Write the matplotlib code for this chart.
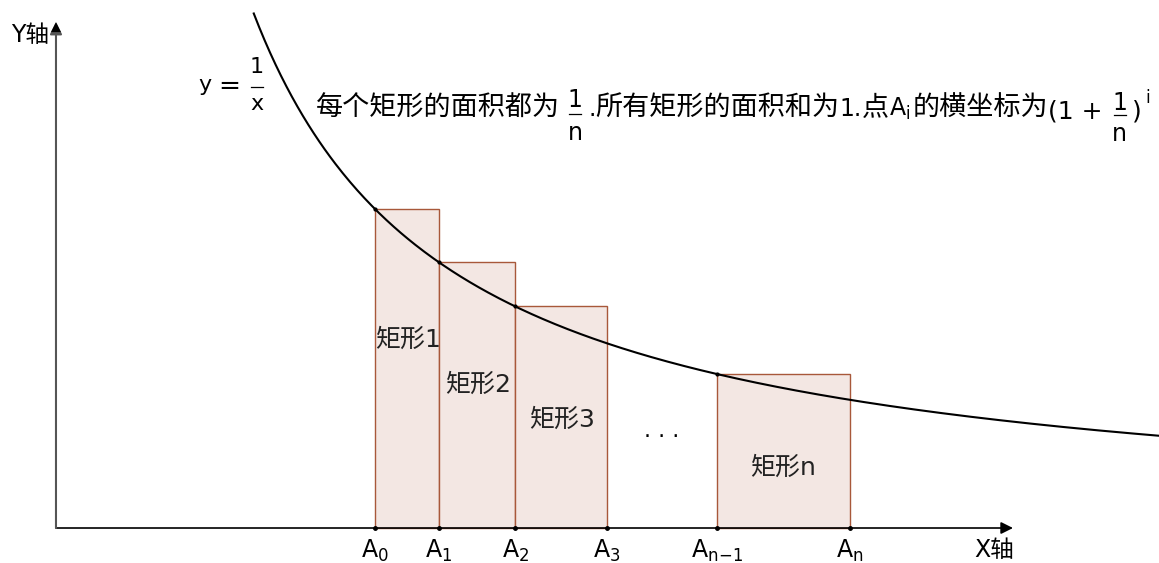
import numpy as np
import matplotlib.pyplot as plt
from matplotlib.patches import Rectangle
from matplotlib.lines import Line2D

plt.rcParams['font.family'] = ['DejaVu Sans', 'Noto Sans CJK SC']
plt.rcParams['mathtext.fontset'] = 'dejavusans'
plt.rcParams['mathtext.default'] = 'rm'

# points A_i on the x axis (n = 5)
a_points = [1.0, 1.2, 1.44, 1.728, 2.0736, 2.48832]
a_labels = ['$A_0$', '$A_1$', '$A_2$', '$A_3$', r'$A_{n\!-\!1}$', '$A_n$']

# rectangles: left edge, right edge, height = 1/left
rect_left = [1.0, 1.2, 1.44, 2.0736]
rect_right = [1.2, 1.44, 1.728, 2.48832]
rect_height = [1.0, 0.8333, 0.6944, 0.4823]
rect_names = ['矩形1', '矩形2', '矩形3', '矩形n']
name_pos = [(1.103, 0.589), (1.323, 0.448), (1.586, 0.339), (2.279, 0.188)]

W, H = 1159, 563
fig = plt.figure(figsize=(W / 100, H / 100), dpi=100)
ax = fig.add_axes([0, 0, 1, 1])
ax.set_xlim(-0.1755, 3.4577)
ax.set_ylim(-0.1097, 1.6552)
ax.axis('off')

cjk = ['Noto Sans CJK SC', 'DejaVu Sans']
mixed = ['DejaVu Sans', 'Noto Sans CJK SC']

# rectangles under the curve
for l, r, h, name, pos in zip(rect_left, rect_right, rect_height, rect_names, name_pos):
    ax.add_patch(Rectangle((l, 0), r - l, h, facecolor='#f3e7e3',
                           edgecolor='#a8583a', lw=1, zorder=1))
    ax.text(pos[0], pos[1], name, ha='center', va='center', fontsize=18,
            family=mixed, color='#222222', zorder=3)

# y = 1/x
x = np.linspace(0.62, 3.46, 500)
ax.plot(x, 1 / x, color='black', lw=1.5, zorder=2)

# axes with arrows
ax.annotate('', xy=(3.0, 0), xytext=(0, 0),
            arrowprops=dict(arrowstyle='-|>', color='black', lw=1.2,
                            mutation_scale=18, shrinkA=0, shrinkB=0))
ax.annotate('', xy=(0, 1.586), xytext=(0, 0),
            arrowprops=dict(arrowstyle='-|>', color='#555555', lw=1.5,
                            mutation_scale=18, shrinkA=0, shrinkB=0))
ax.annotate('', xy=(0, 1.586), xytext=(0, 1.5),
            arrowprops=dict(arrowstyle='-|>', color='black', lw=0,
                            mutation_scale=18, shrinkA=0, shrinkB=0))

# points on the axis and on the curve
ax.plot(a_points, [0] * len(a_points), 'o', color='black', ms=2.5, zorder=4)
ax.plot(rect_left, rect_height, 'o', color='black', ms=2, zorder=4)

for xa, lab in zip(a_points, a_labels):
    ax.text(xa, -0.03, lab, ha='center', va='top', fontsize=17)

ax.text(2.94, -0.069, 'X轴', ha='center', va='center', fontsize=17, family=mixed)
ax.text(-0.082, 1.545, 'Y轴', ha='center', va='center', fontsize=17, family=mixed)
ax.text(1.897, 0.305, '. . .', ha='center', va='center', fontsize=16, family='DejaVu Sans')

# text set piece by piece in pixel units (origin top left)
renderer = fig.canvas.get_renderer()


def put(s, px, py, size=17, family=mixed):
    t = fig.text(px / W, 1 - py / H, s, ha='left', va='baseline',
                 fontsize=size, family=family)
    return t.get_window_extent(renderer).x1


def frac(num, den, xc, bar_y, num_y, den_y, half=6, size=17):
    fig.text(xc / W, 1 - num_y / H, num, ha='center', va='baseline', fontsize=size)
    fig.text(xc / W, 1 - den_y / H, den, ha='center', va='baseline', fontsize=size)
    fig.add_artist(Line2D([(xc - half) / W, (xc + half) / W], [1 - bar_y / H] * 2,
                          color='black', lw=0.9, transform=fig.transFigure))


# y = 1/x label
put('y', 198, 91, size=16)
put('=', 218, 94, size=19)
frac('1', 'x', 257, 87, 73, 110, half=6, size=16)

# formula line
base = 116
cs = 19.5
px = put('每个矩形的面积都为', 316, base, size=cs, family=cjk)
frac('1', 'n', px + 15, 114, 107, 140)
px = put('.', px + 28, base)
px = put('所有矩形的面积和为', px, base, size=cs, family=cjk)
px = put('1.', px, base)
px = put('点', px, base, size=cs, family=cjk)
px = put('$A_i$', px, base)
px = put('的横坐标为', px + 2, base, size=cs, family=cjk)
px = put('(1 +', px, base + 2, size=18)
frac('1', 'n', px + 17, 115, 110, 141)
px = put(')', px + 29, base + 2, size=18)
put('i', px + 4, 103, size=12)

fig.savefig('out.png', dpi=100)
